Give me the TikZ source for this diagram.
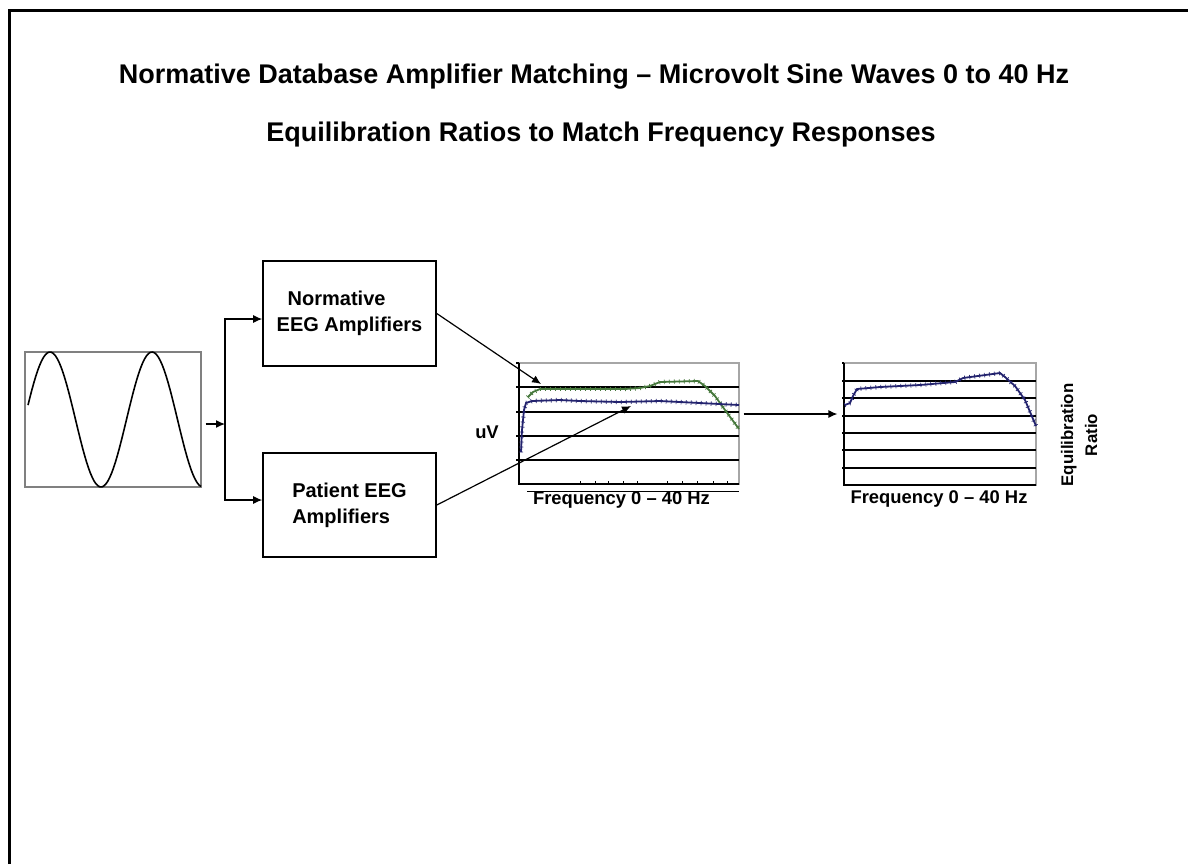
\documentclass[tikz,border=0pt]{standalone}
\usepackage{fontspec}
\setmainfont{Liberation Sans}
\usetikzlibrary{arrows.meta,decorations.markings}

\definecolor{tracegreen}{RGB}{70,120,60}
\definecolor{traceblue}{RGB}{35,35,110}

\begin{document}
\begin{tikzpicture}[x=0.5pt, y=-0.5pt, >={Latex[length=4.5pt,width=4pt]},
  ampbox/.style={draw, line width=0.8pt, inner sep=0pt, align=left,
    font=\fontsize{10pt}{13pt}\selectfont\bfseries},
  chartframe/.style={draw=gray!70, line width=0.6pt, inner sep=0pt},
  gridline/.style={line width=0.6pt},
  lbl/.style={inner sep=0pt, font=\fontsize{9.2pt}{11pt}\selectfont\bfseries},
  heading/.style={font=\fontsize{13.5pt}{16pt}\selectfont\bfseries},
  conn/.style={->, line width=0.6pt},
  trace/.style={line width=0.9pt, postaction={decorate, decoration={markings,
    mark=between positions 0 and 1 step 2.5pt with {\draw[line width=0.35pt] (0,-1.1pt) -- (0,1.1pt);}}}}]

  \useasboundingbox (0,0) rectangle (1188,864);

  % Rahmen
  \draw[line width=1.5pt] (9,864) -- (9,10) -- (1188,10);

  % Titel
  \node[heading] (title) at (594,77)
    {Normative Database Amplifier Matching -- Microvolt Sine Waves 0 to 40 Hz};
  \node[heading] (subtitle) at (601,135)
    {Equilibration Ratios to Match Frequency Responses};

  % Sinus-Eingang (Periode 102)
  \node[draw=gray, line width=0.6pt, minimum width=88pt, minimum height=67.5pt, inner sep=0pt] (sine) at (113,419.5) {};
  \draw[line width=0.8pt, domain=28:201, samples=90] plot (\x, {419.5 - 67.5*sin(3.5294*(\x-50) + 90)});

  % Verstaerker
  \node[ampbox, minimum width=86.5pt, minimum height=52.5pt] (normamp) at (349.5,313.5)
    {\hspace*{5.5pt}Normative\\EEG Amplifiers};
  \node[ampbox, minimum width=86.5pt, minimum height=52pt] (patamp) at (349.5,505)
    {Patient EEG\\Amplifiers};

  % Verzweigung
  \coordinate (split) at (225,424);
  \draw[conn, shorten <=2pt] (sine.east |- split) -- (split);
  \draw[conn] (split) |- ([yshift=-2.75pt]normamp.west);
  \draw[conn] (split) |- ([yshift=2.5pt]patamp.west);

  % Frequenzgang uV
  \node[chartframe, minimum width=110pt, minimum height=60.5pt] (midchart) at (629,423.5) {};
  \foreach \gy in {387,412,436,460}
    \draw[gridline] (516,\gy) -- (739,\gy);
  \draw[gridline] (516,363) -- (519,363);
  \draw[gridline] (519,363) -- (519,484) -- (739,484);
  \foreach \tx in {580,595,608,623,637,667,682,697,713,727}
    \draw[line width=0.4pt] (\tx,484) -- (\tx,481);
  \draw[line width=0.5pt] (527,491) -- (739,491);
  \node[lbl] (uv) at (487,432) {uV};
  \node[lbl] (freqa) at (621.5,500) {Frequency 0 -- 40 Hz};

  % Normativ (gruen) und Patient (blau)
  \draw[trace, tracegreen] (528,397) -- (533,392) -- (540,389) -- (607,389) -- (625,389)
    -- (640,388) -- (650,386) -- (660,382) -- (698,381) -- (705,386) -- (715,396)
    -- (725,410) -- (739,429);
  \draw[trace, traceblue] (521,452) -- (522,430) -- (524,410) -- (526,403) -- (532,401)
    -- (560,400) -- (580,401) -- (620,402) -- (660,401) -- (700,403) -- (739,405);

  \coordinate (greentip) at (541,384);
  \coordinate (bluetip) at (631,406);
  \draw[conn] (normamp.east) -- (greentip);
  \draw[conn] (patamp.east) -- (bluetip);

  % Equilibrationsverhaeltnis
  \node[chartframe, minimum width=96pt, minimum height=61pt] (ratiochart) at (940,424) {};
  \foreach \gy in {381,398,416,433,450,468}
    \draw[gridline] (842,\gy) -- (1036,\gy);
  \draw[gridline] (842,363) -- (844,363);
  \draw[gridline] (844,363) -- (844,485) -- (1036,485);
  \draw[trace, traceblue] (845,405) -- (850,403) -- (853,396) -- (857,389) -- (880,387)
    -- (920,385) -- (955,382) -- (963,378) -- (1000,373) -- (1005,377) -- (1015,386)
    -- (1025,400) -- (1036,426);
  \node[lbl] (freqb) at (939,499) {Frequency 0 -- 40 Hz};
  \node[rotate=90, align=center, inner sep=0pt,
    font=\fontsize{8.4pt}{12pt}\selectfont\bfseries] (ratiolbl) at (1079,435) {Equilibration\\Ratio};

  \draw[conn, shorten <=2pt, shorten >=3pt] ([yshift=4.75pt]midchart.east) -- ([yshift=5pt]ratiochart.west);

\end{tikzpicture}
\end{document}
